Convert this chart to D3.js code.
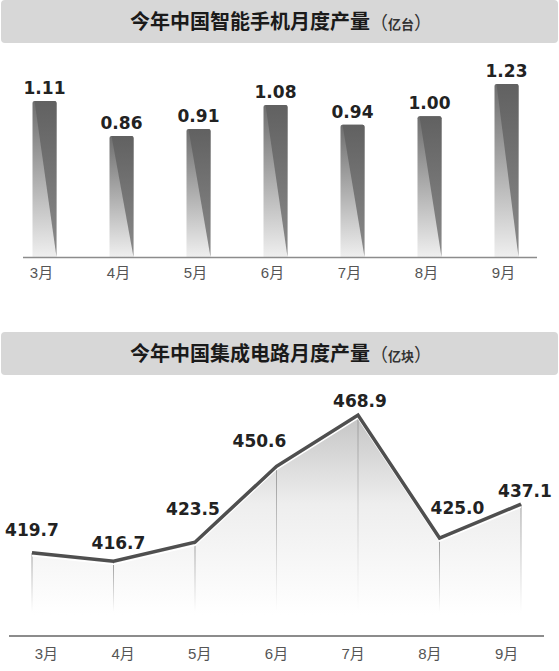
<!DOCTYPE html>
<html>
<head>
<meta charset="utf-8">
<script src="https://cdn.jsdelivr.net/npm/d3@7"></script>
<style>
  html, body { margin: 0; padding: 0; background: #fff; }
  svg { display: block; }
</style>
</head>
<body>
<div id="chart"></div>
<script>
// 月份
const months = ['3月', '4月', '5月', '6月', '7月', '8月', '9月'];
// 智能手机月度产量（亿台）
const phoneValues = [1.11, 0.86, 0.91, 1.08, 0.94, 1.00, 1.23];
const phoneLabels = ['1.11', '0.86', '0.91', '1.08', '0.94', '1.00', '1.23'];
// 集成电路月度产量（亿块）
const chipValues = [419.7, 416.7, 423.5, 450.6, 468.9, 425.0, 437.1];
const chipLabels = ['419.7', '416.7', '423.5', '450.6', '468.9', '425.0', '437.1'];
// 折线数值标签的微调偏移
const chipLabelNudge = [[0, -17], [5, -12], [-2, -27], [-17, -19], [2, -8], [18, -24], [4, -7]];

const width = 559, height = 671;
const svg = d3.select('#chart').append('svg')
  .attr('width', width)
  .attr('height', height);

const defs = svg.append('defs');

// 柱子左侧渐变
const gBar = defs.append('linearGradient').attr('id', 'barGrad')
  .attr('x1', 0).attr('y1', 0).attr('x2', 0).attr('y2', 1);
gBar.append('stop').attr('offset', '0%').attr('stop-color', '#6e6e6e');
gBar.append('stop').attr('offset', '55%').attr('stop-color', '#b4b4b4');
gBar.append('stop').attr('offset', '100%').attr('stop-color', '#efefef');
// 柱子右侧楔形
const gWedge = defs.append('linearGradient').attr('id', 'wedgeGrad')
  .attr('x1', 0).attr('y1', 0).attr('x2', 0).attr('y2', 1);
gWedge.append('stop').attr('offset', '0%').attr('stop-color', '#616161');
gWedge.append('stop').attr('offset', '100%').attr('stop-color', '#8a8a8a');

// 标题条
function titleBar(y, main, unit) {
  svg.append('rect')
    .attr('x', 1).attr('y', y).attr('width', 557).attr('height', 43)
    .attr('rx', 4)
    .attr('fill', '#d7d7d7');
  const t = svg.append('text')
    .attr('x', 130).attr('y', y + 29)
    .attr('font-family', '"Noto Sans CJK SC", sans-serif')
    .attr('fill', '#1a1a1a');
  t.append('tspan').attr('font-size', '20px').attr('font-weight', 'bold').text(main);
  t.append('tspan').attr('font-size', '18px').attr('fill', '#333').text('（');
  t.append('tspan').attr('font-size', '13px').attr('font-weight', 'bold').attr('fill', '#333').text(unit);
  t.append('tspan').attr('font-size', '18px').attr('fill', '#333').text('）');
}

titleBar(0, '今年中国智能手机月度产量', '亿台');
titleBar(332, '今年中国集成电路月度产量', '亿块');

const valueFont = '"DejaVu Sans", sans-serif';

// ---------- 柱状图 ----------
const barBase = 257;
const xBar = d3.scalePoint().domain(months).range([6, 545]).padding(0.5);
const yBar = d3.scaleLinear().domain([0, 1.23]).range([barBase, 84]);
const barW = 24;

const bars = svg.append('g').selectAll('g').data(phoneValues).enter().append('g');

bars.append('path')
  .attr('fill', 'url(#barGrad)')
  .attr('d', (d, i) => {
    const x0 = xBar(months[i]) - barW / 2, y0 = yBar(d);
    return `M${x0},${barBase}V${y0 + 2}Q${x0},${y0} ${x0 + 2},${y0}H${x0 + barW - 2}Q${x0 + barW},${y0} ${x0 + barW},${y0 + 2}V${barBase}Z`;
  });

bars.append('path')
  .attr('fill', 'url(#wedgeGrad)')
  .attr('d', (d, i) => {
    const x0 = xBar(months[i]) - barW / 2, y0 = yBar(d);
    return `M${x0 + 2},${y0}H${x0 + barW - 2}Q${x0 + barW},${y0} ${x0 + barW},${y0 + 2}V${barBase}Z`;
  });

bars.append('text')
  .attr('x', (d, i) => xBar(months[i]))
  .attr('y', d => yBar(d) - 7)
  .attr('text-anchor', 'middle')
  .attr('font-family', valueFont)
  .attr('font-weight', 'bold')
  .attr('font-size', '17px')
  .attr('fill', '#222')
  .text((d, i) => phoneLabels[i]);

svg.append('line')
  .attr('x1', 23).attr('x2', 537)
  .attr('y1', barBase + 0.5).attr('y2', barBase + 0.5)
  .attr('stroke', '#8c8c8c').attr('stroke-width', 1.5);

svg.append('g').selectAll('text').data(months).enter().append('text')
  .attr('x', d => xBar(d) - 3)
  .attr('y', 278)
  .attr('text-anchor', 'middle')
  .attr('font-family', '"Liberation Sans", "Noto Sans CJK SC", sans-serif')
  .attr('font-size', '15px')
  .attr('fill', '#555')
  .text(d => d);

// ---------- 折线图 ----------
const lineBase = 636;
const xLine = d3.scalePoint().domain(months).range([32, 521]);
const xLabel = d3.scalePoint().domain(months).range([8, 545]).padding(0.5);
const yLine = d3.scaleLinear().domain([390, 470]).range([lineBase, 412]);

const gArea = defs.append('linearGradient').attr('id', 'areaGrad')
  .attr('gradientUnits', 'userSpaceOnUse')
  .attr('x1', 0).attr('y1', 414).attr('x2', 0).attr('y2', 615);
gArea.append('stop').attr('offset', '0%').attr('stop-color', '#c4c4c4');
gArea.append('stop').attr('offset', '45%').attr('stop-color', '#eeeeee');
gArea.append('stop').attr('offset', '100%').attr('stop-color', '#ffffff');

const gDrop = defs.append('linearGradient').attr('id', 'dropGrad')
  .attr('x1', 0).attr('y1', 0).attr('x2', 0).attr('y2', 1);
gDrop.append('stop').attr('offset', '0%').attr('stop-color', '#999');
gDrop.append('stop').attr('offset', '100%').attr('stop-color', '#fff');

const area = d3.area()
  .x((d, i) => xLine(months[i]))
  .y0(615)
  .y1(d => yLine(d));

svg.append('path')
  .datum(chipValues)
  .attr('d', area)
  .attr('fill', 'url(#areaGrad)');

svg.append('g').selectAll('rect').data(chipValues).enter().append('rect')
  .attr('x', (d, i) => xLine(months[i]) - 0.5)
  .attr('y', d => yLine(d))
  .attr('width', 1)
  .attr('height', d => 612 - yLine(d))
  .attr('fill', 'url(#dropGrad)');

const line = d3.line()
  .x((d, i) => xLine(months[i]))
  .y(d => yLine(d));

// 线下方的白色高光
svg.append('path')
  .datum(chipValues)
  .attr('d', line)
  .attr('transform', 'translate(0,3)')
  .attr('fill', 'none')
  .attr('stroke', '#fff')
  .attr('stroke-width', 1.5);

svg.append('path')
  .datum(chipValues)
  .attr('d', line)
  .attr('fill', 'none')
  .attr('stroke', '#4f4f4f')
  .attr('stroke-width', 3.5)
  .attr('stroke-linejoin', 'miter');

svg.append('g').selectAll('text').data(chipValues).enter().append('text')
  .attr('x', (d, i) => xLine(months[i]) + chipLabelNudge[i][0])
  .attr('y', (d, i) => yLine(d) + chipLabelNudge[i][1])
  .attr('text-anchor', 'middle')
  .attr('font-family', valueFont)
  .attr('font-weight', 'bold')
  .attr('font-size', '17px')
  .attr('fill', '#222')
  .text((d, i) => chipLabels[i]);

svg.append('line')
  .attr('x1', 9).attr('x2', 544)
  .attr('y1', lineBase).attr('y2', lineBase)
  .attr('stroke', '#666').attr('stroke-width', 1.5);

svg.append('g').selectAll('text').data(months).enter().append('text')
  .attr('x', d => xLabel(d))
  .attr('y', 659)
  .attr('text-anchor', 'middle')
  .attr('font-family', '"Liberation Sans", "Noto Sans CJK SC", sans-serif')
  .attr('font-size', '15px')
  .attr('fill', '#555')
  .text(d => d);
</script>
</body>
</html>
